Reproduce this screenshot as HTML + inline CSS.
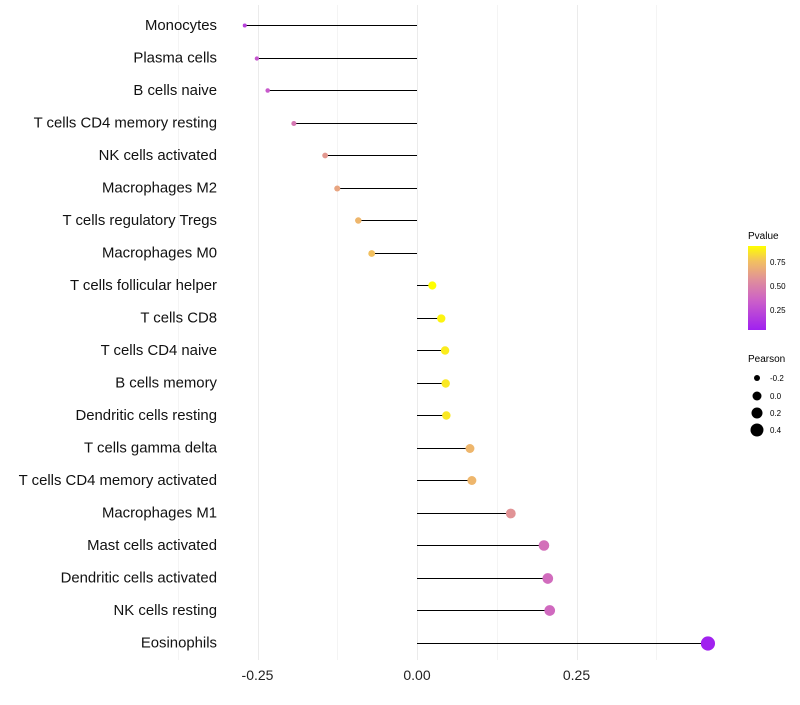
<!DOCTYPE html>
<html><head><meta charset="utf-8"><style>
body{margin:0;background:#fff;font-family:"Liberation Sans",sans-serif;}
svg text{font-family:"Liberation Sans",sans-serif;}
</style></head><body>
<svg id="chart" width="800" height="700">
<defs><linearGradient id="pg" x1="0" y1="1" x2="0" y2="0">
<stop offset="0" stop-color="#a020f0"/><stop offset="0.35" stop-color="#cc60c8"/><stop offset="0.6" stop-color="#e0909a"/><stop offset="0.82" stop-color="#f2c060"/><stop offset="1" stop-color="#ffff00"/>
</linearGradient></defs>
<g id="grid"></g><g id="marks"></g><g id="labels"></g>
<g>
<text x="748" y="239" font-size="10">Pvalue</text>
<rect x="748" y="246" width="18" height="84" fill="url(#pg)"/>
<text x="770" y="265" font-size="8">0.75</text>
<text x="770" y="289" font-size="8">0.50</text>
<text x="770" y="313" font-size="8">0.25</text>
</g>
<g>
<text x="748" y="362" font-size="10">Pearson</text>
<circle cx="757" cy="378" r="3" fill="#000"/><text x="770" y="381" font-size="8">-0.2</text>
<circle cx="757" cy="396" r="4.5" fill="#000"/><text x="770" y="399" font-size="8">0.0</text>
<circle cx="757" cy="413" r="5.5" fill="#000"/><text x="770" y="416" font-size="8">0.2</text>
<circle cx="757" cy="430" r="6.5" fill="#000"/><text x="770" y="433" font-size="8">0.4</text>
</g>
</svg>
<script>
const categories=["Monocytes","Plasma cells","B cells naive","T cells CD4 memory resting","NK cells activated","Macrophages M2","T cells regulatory  Tregs ","Macrophages M0","T cells follicular helper","T cells CD8","T cells CD4 naive","B cells memory","Dendritic cells resting","T cells gamma delta","T cells CD4 memory activated","Macrophages M1","Mast cells activated","Dendritic cells activated","NK cells resting","Eosinophils"];
const pearson=[-0.27,-0.251,-0.234,-0.193,-0.144,-0.125,-0.092,-0.071,0.024,0.038,0.044,0.045,0.046,0.083,0.086,0.147,0.199,0.205,0.208,0.456];
const pvalues=[0.2,0.3,0.32,0.45,0.6,0.65,0.72,0.76,0.93,0.89,0.87,0.86,0.86,0.72,0.72,0.58,0.42,0.4,0.39,0.05];
const xTicks=[-0.25,0,0.25];
const xTickLabels=["-0.25","0.00","0.25"];
const NS="http://www.w3.org/2000/svg";
const xs=v=>417+v*638;
const ys=i=>25+i*32.5;
const rs=p=>Math.max(1.6,3.9+p*7);
const stops=[[0,[160,32,240]],[0.35,[204,96,200]],[0.6,[224,144,154]],[0.82,[242,192,96]],[1,[255,255,0]]];
function col(p){const t=Math.min(1,Math.max(0,(p-0.04)/(0.917-0.04)));for(let i=1;i<stops.length;i++){if(t<=stops[i][0]){const a=stops[i-1],b=stops[i],f=(t-a[0])/(b[0]-a[0]);return "rgb("+a[1].map((c,k)=>Math.round(c+(b[1][k]-c)*f)).join(",")+")";}}return "rgb(255,255,0)";}
function mk(tag,at,parent){const e=document.createElementNS(NS,tag);for(const k in at)e.setAttribute(k,at[k]);document.getElementById(parent).appendChild(e);return e;}
[-0.375,-0.25,-0.125,0,0.125,0.25,0.375].forEach(v=>{const l=mk("line",{x1:Math.round(xs(v))+0.5,x2:Math.round(xs(v))+0.5,y1:5,y2:660,stroke:Math.abs(v*8)%2===0?"#ebebeb":"#f4f4f4","stroke-width":1},"grid");

});
xTicks.forEach((v,i)=>{const t=mk("text",{x:xs(v),y:680,"font-size":14,"text-anchor":"middle",fill:"#222"},"labels");t.textContent=xTickLabels[i];

});
categories.forEach((c,i)=>{
const t=mk("text",{x:217,y:ys(i)+5,"font-size":14.9,"text-anchor":"end",fill:"#111"},"labels");t.textContent=c;


const yy=Math.round(ys(i))+0.5;
const l=mk("line",{x1:xs(0),x2:xs(pearson[i]),y1:yy,y2:yy,stroke:"#000","stroke-width":1},"marks");


const d=mk("circle",{cx:xs(pearson[i]),cy:yy,r:rs(pearson[i]),fill:col(pvalues[i])},"marks");


});
</script>
</body></html>
